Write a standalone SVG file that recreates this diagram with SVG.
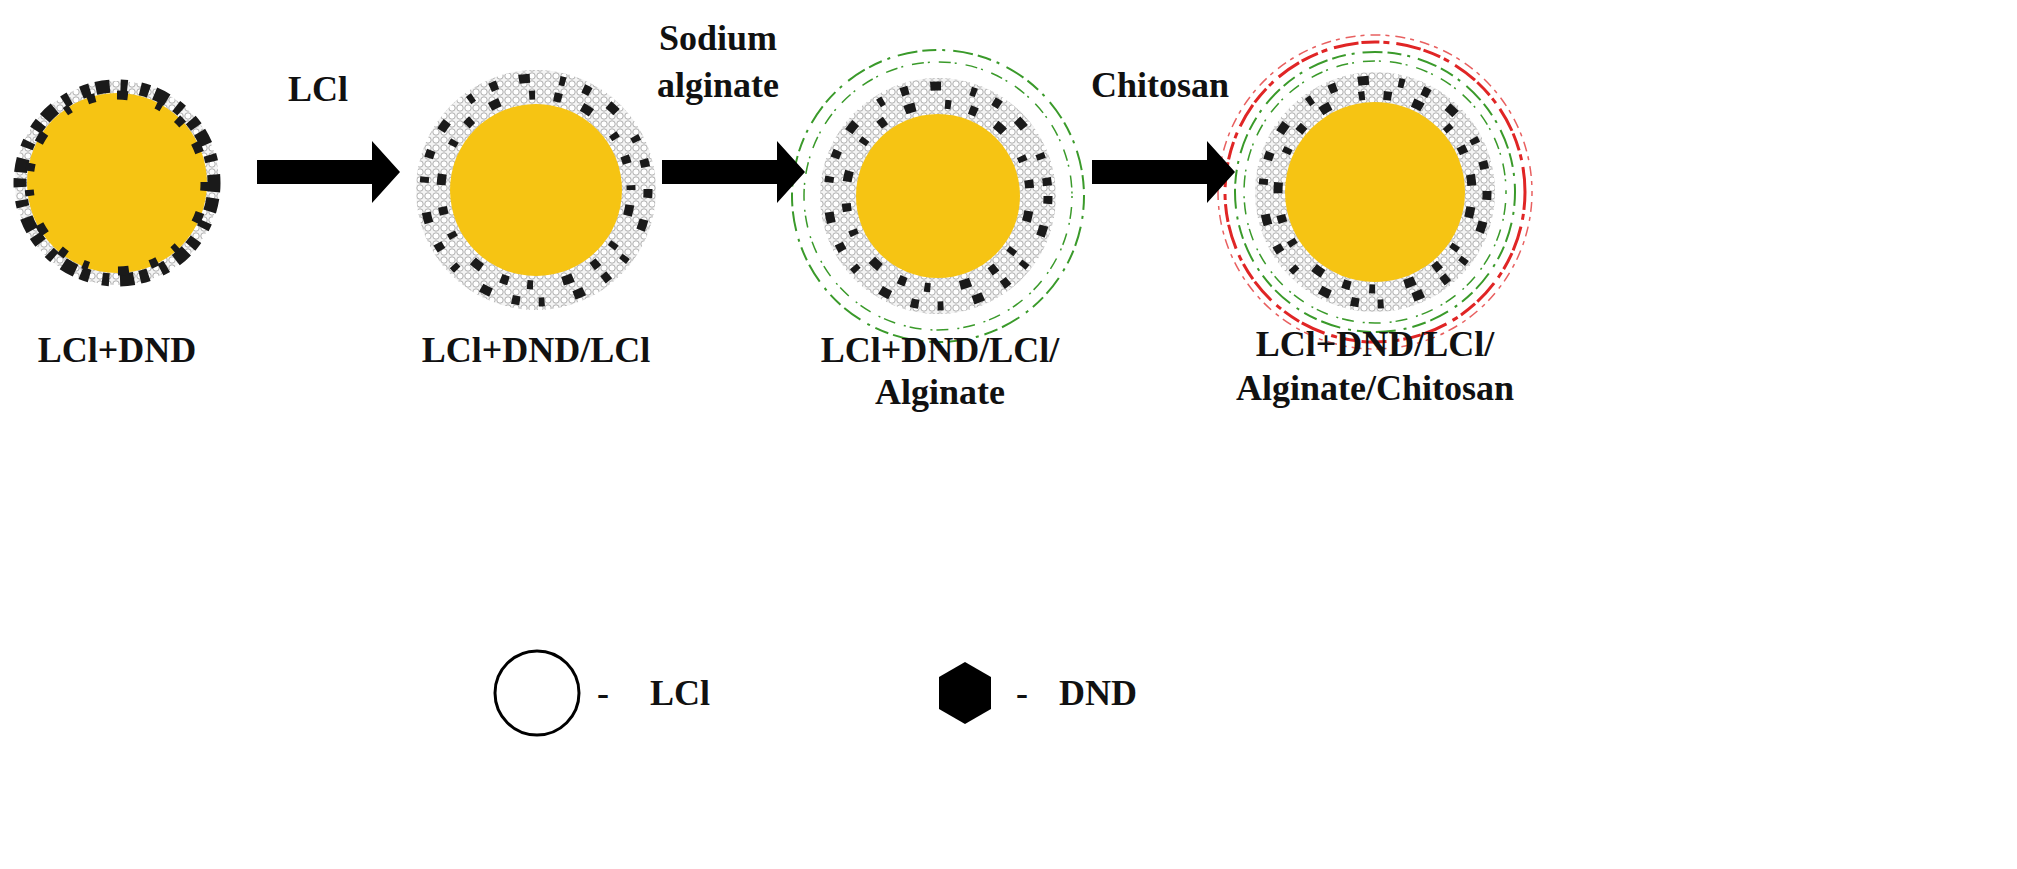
<svg xmlns="http://www.w3.org/2000/svg" width="2017" height="869" viewBox="0 0 2017 869">
<style>
.t{font-family:"Liberation Serif",serif;font-weight:bold;font-size:36px;fill:#111;text-anchor:middle}
.core{fill:#f6c413}
.shell{fill:url(#dots);}
.dnd{fill:none;stroke:#1a1a1a;stroke-width:13;stroke-dasharray:9 6 14 11 7 13}
.dnd2{fill:none;stroke:#1a1a1a;stroke-width:9;stroke-dasharray:8 22 11 30 6 19}
.alg{fill:none;stroke:#3a9a2a;stroke-width:2;stroke-dasharray:14 6 3 8 20 5}
.alg2{fill:none;stroke:#3a9a2a;stroke-width:1.5;stroke-dasharray:2 9 12 4}
.chi{fill:none;stroke:#e02525;stroke-width:3;stroke-dasharray:18 4 6 7 25 3}
.chi2{fill:none;stroke:#e86060;stroke-width:1.5;stroke-dasharray:4 6 10 5}
</style>
<defs>
<pattern id="dots" width="8" height="8" patternUnits="userSpaceOnUse">
<rect width="8" height="8" fill="#f4f4f4"/>
<circle cx="4" cy="4" r="3.2" fill="#fff" stroke="#999" stroke-width="0.8"/>
</pattern>
<polygon id="arr" points="0,-12 115,-12 115,-31 143,0 115,31 115,12 0,12" fill="#000"/>
</defs>
<rect width="2017" height="869" fill="#fff"/>
<g id="p1">
<circle cx="117" cy="183" r="102" class="shell"/>
<circle cx="117" cy="183" r="90" class="core"/>
<circle cx="117" cy="183" r="97" class="dnd"/>
<circle cx="117" cy="183" r="88" class="dnd2"/>
</g>
<g id="p2">
<circle cx="536" cy="190" r="120" class="shell"/>
<circle cx="536" cy="190" r="86" class="core"/>
<circle cx="536" cy="190" r="112" class="dnd2"/>
<circle cx="536" cy="190" r="95" class="dnd2" stroke-dashoffset="15"/>
</g>
<g id="p3">
<circle cx="938" cy="196" r="146" class="alg"/>
<circle cx="938" cy="196" r="134" class="alg2"/>
<circle cx="938" cy="196" r="118" class="shell"/>
<circle cx="938" cy="196" r="82" class="core"/>
<circle cx="938" cy="196" r="110" class="dnd2"/>
<circle cx="938" cy="196" r="92" class="dnd2" stroke-dashoffset="15"/>
</g>
<g id="p4">
<circle cx="1375" cy="192" r="157" class="chi2"/>
<circle cx="1375" cy="192" r="150" class="chi"/>
<circle cx="1375" cy="192" r="140" class="alg"/>
<circle cx="1375" cy="192" r="131" class="alg2"/>
<circle cx="1375" cy="192" r="120" class="shell"/>
<circle cx="1375" cy="192" r="90" class="core"/>
<circle cx="1375" cy="192" r="112" class="dnd2"/>
<circle cx="1375" cy="192" r="97" class="dnd2" stroke-dashoffset="15"/>
</g>
<g id="connectors">
<use href="#arr" x="257" y="172"/>
<use href="#arr" x="662" y="172"/>
<use href="#arr" x="1092" y="172"/>
</g>
<g id="labels">
<text class="t" x="318" y="101">LCl</text>
<text class="t" x="718" y="50">Sodium</text>
<text class="t" x="718" y="97">alginate</text>
<text class="t" x="1160" y="97">Chitosan</text>
<text class="t" x="117" y="362">LCl+DND</text>
<text class="t" x="536" y="362">LCl+DND/LCl</text>
<text class="t" x="940" y="362">LCl+DND/LCl/</text>
<text class="t" x="940" y="404">Alginate</text>
<text class="t" x="1375" y="356">LCl+DND/LCl/</text>
<text class="t" x="1375" y="400">Alginate/Chitosan</text>
</g>
<g id="legend">
<circle cx="537" cy="693" r="42" fill="#fff" stroke="#000" stroke-width="3"/>
<text class="t" x="603" y="705">-</text>
<text class="t" x="680" y="705">LCl</text>
<polygon points="965,662 991,677 991,709 965,724 939,709 939,677" fill="#000"/>
<text class="t" x="1022" y="705">-</text>
<text class="t" x="1098" y="705">DND</text>
</g>
</svg>
